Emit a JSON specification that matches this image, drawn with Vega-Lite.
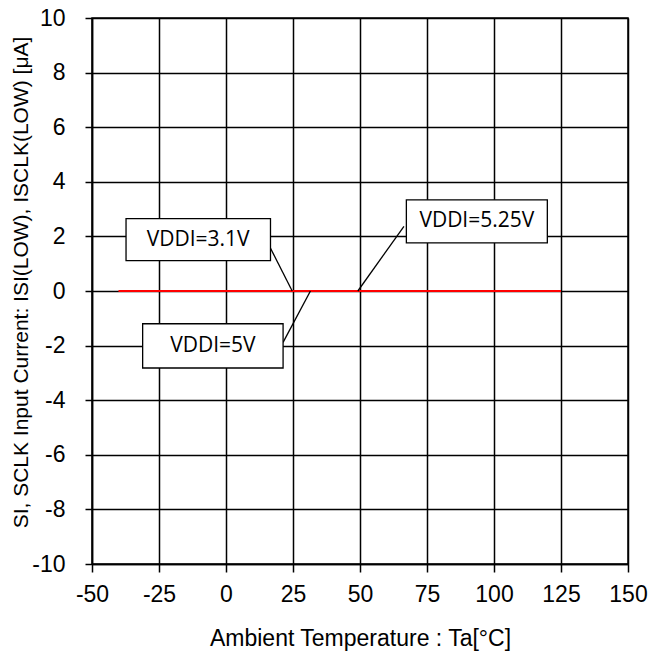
{
  "$schema": "https://vega.github.io/schema/vega-lite/v6.json",
  "width": 536,
  "height": 546,
  "autosize": "none",
  "padding": {"left": 92, "top": 18, "right": 21, "bottom": 89},
  "background": "white",
  "config": {
    "view": {"stroke": "black", "strokeWidth": 1.5},
    "axis": {
      "grid": true,
      "gridColor": "black",
      "gridWidth": 1.5,
      "gridOpacity": 1,
      "domainColor": "black",
      "domainWidth": 1.5,
      "tickColor": "black",
      "tickWidth": 1.5,
      "labelFont": "Liberation Sans",
      "labelFontSize": 23,
      "labelColor": "black",
      "labelFlush": false,
      "labelOverlap": false,
      "labelExpr": "datum.value + ''",
      "titleFont": "Liberation Sans",
      "titleFontWeight": "normal",
      "titleColor": "black"
    }
  },
  "datasets": {
    "curve": [
      {"t": -40, "i": 0, "vddi": "VDDI=3.1V"},
      {"t": -20, "i": 0, "vddi": "VDDI=3.1V"},
      {"t": 25, "i": 0, "vddi": "VDDI=3.1V"},
      {"t": 85, "i": 0, "vddi": "VDDI=3.1V"},
      {"t": 125, "i": 0, "vddi": "VDDI=3.1V"},
      {"t": -40, "i": 0, "vddi": "VDDI=5V"},
      {"t": -20, "i": 0, "vddi": "VDDI=5V"},
      {"t": 25, "i": 0, "vddi": "VDDI=5V"},
      {"t": 85, "i": 0, "vddi": "VDDI=5V"},
      {"t": 125, "i": 0, "vddi": "VDDI=5V"},
      {"t": -40, "i": 0, "vddi": "VDDI=5.25V"},
      {"t": -20, "i": 0, "vddi": "VDDI=5.25V"},
      {"t": 25, "i": 0, "vddi": "VDDI=5.25V"},
      {"t": 85, "i": 0, "vddi": "VDDI=5.25V"},
      {"t": 125, "i": 0, "vddi": "VDDI=5.25V"}
    ],
    "notes": [
      {"label": "VDDI=3.1V", "bx1": -37.3, "bx2": 16.6, "by1": 2.65, "by2": 1.11, "tx": -10.4, "ty": 1.88, "lx1": 15.3, "ly1": 1.82, "lx2": 24.7, "ly2": 0},
      {"label": "VDDI=5V", "bx1": -31.1, "bx2": 21.3, "by1": -1.2, "by2": -2.82, "tx": -4.9, "ty": -2.01, "lx1": 21.3, "ly1": -1.88, "lx2": 31.5, "ly2": 0},
      {"label": "VDDI=5.25V", "bx1": 67.3, "bx2": 119.9, "by1": 3.34, "by2": 1.76, "tx": 93.6, "ty": 2.55, "lx1": 66.4, "ly1": 2.37, "lx2": 49.2, "ly2": 0}
    ]
  },
  "layer": [
    {
      "data": {"name": "curve"},
      "mark": {"type": "line", "color": "#ff0000", "strokeWidth": 2},
      "encoding": {
        "x": {
          "field": "t", "type": "quantitative",
          "title": "Ambient Temperature : Ta[°C]",
          "scale": {"domain": [-50, 150], "nice": false, "zero": false},
          "axis": {
            "values": [-50, -25, 0, 25, 50, 75, 100, 125, 150],
            "titleFontSize": 23,
            "tickSize": 8,
            "labelPadding": 11,
            "titleX": 268,
            "titleY": 81,
            "titleBaseline": "alphabetic",
            "titleAlign": "center"
          }
        },
        "y": {
          "field": "i", "type": "quantitative",
          "title": "SI, SCLK Input Current: ISI(LOW), ISCLK(LOW) [μA]",
          "scale": {"domain": [-10, 10], "nice": false, "zero": false},
          "axis": {
            "values": [-10, -8, -6, -4, -2, 0, 2, 4, 6, 8, 10],
            "titleFontSize": 21,
            "tickSize": 7,
            "labelPadding": 20,
            "titleAngle": -90,
            "titleX": -65,
            "titleY": 264,
            "titleBaseline": "alphabetic",
            "titleAlign": "center"
          }
        },
        "detail": {"field": "vddi"}
      }
    },
    {
      "data": {"name": "notes"},
      "mark": {"type": "rule", "color": "black", "strokeWidth": 1.3},
      "encoding": {
        "x": {"field": "lx1", "type": "quantitative", "title": "Ambient Temperature : Ta[°C]", "scale": {"domain": [-50, 150], "nice": false, "zero": false}},
        "y": {"field": "ly1", "type": "quantitative", "title": "SI, SCLK Input Current: ISI(LOW), ISCLK(LOW) [μA]", "scale": {"domain": [-10, 10], "nice": false, "zero": false}},
        "x2": {"field": "lx2"},
        "y2": {"field": "ly2"}
      }
    },
    {
      "data": {"name": "notes"},
      "mark": {"type": "rect", "fill": "white", "stroke": "black", "strokeWidth": 1.3},
      "encoding": {
        "x": {"field": "bx1", "type": "quantitative", "title": "Ambient Temperature : Ta[°C]", "scale": {"domain": [-50, 150], "nice": false, "zero": false}},
        "y": {"field": "by1", "type": "quantitative", "title": "SI, SCLK Input Current: ISI(LOW), ISCLK(LOW) [μA]", "scale": {"domain": [-10, 10], "nice": false, "zero": false}},
        "x2": {"field": "bx2"},
        "y2": {"field": "by2"}
      }
    },
    {
      "data": {"name": "notes"},
      "mark": {"type": "text", "font": "Open Sans", "fontSize": 21, "color": "black", "align": "center", "baseline": "middle"},
      "encoding": {
        "x": {"field": "tx", "type": "quantitative", "title": "Ambient Temperature : Ta[°C]", "scale": {"domain": [-50, 150], "nice": false, "zero": false}},
        "y": {"field": "ty", "type": "quantitative", "title": "SI, SCLK Input Current: ISI(LOW), ISCLK(LOW) [μA]", "scale": {"domain": [-10, 10], "nice": false, "zero": false}},
        "text": {"field": "label"}
      }
    }
  ]
}
